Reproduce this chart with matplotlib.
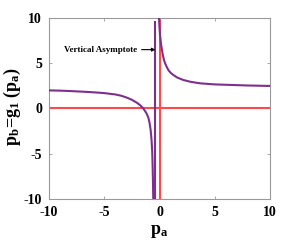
import matplotlib
matplotlib.use("Agg")
import matplotlib.pyplot as plt

# left branch of p_b = g_1(p_a)
left_pa = [-10, -9, -8, -7, -6, -5, -4, -3.5, -3, -2.5, -2, -1.75, -1.5, -1.3,
           -1.15, -1.0, -0.9, -0.8, -0.72, -0.66, -0.62, -0.59, -0.56]
left_pb = [2.0, 1.97, 1.92, 1.86, 1.79, 1.7, 1.55, 1.42, 1.22, 0.96, 0.6, 0.35,
           0.05, -0.3, -0.6, -1.05, -1.6, -2.4, -3.5, -4.8, -6.5, -8.3, -10.5]

# right branch
right_pa = [-0.06, -0.03, 0.0, 0.05, 0.1, 0.15, 0.23, 0.3, 0.41, 0.5, 0.65, 0.8,
            1.0, 1.25, 1.6, 2.15, 2.8, 3.67, 5, 6.5, 8, 10]
right_pb = [10.3, 9.6, 8.9, 8.1, 7.5, 7.0, 6.4, 5.9, 5.35, 5.0, 4.6, 4.25,
            3.95, 3.7, 3.42, 3.15, 2.95, 2.78, 2.66, 2.6, 2.54, 2.49]

asym_pa = -0.37
asym_pb = [-10, 9.5]

ticks = [-10, -5, 0, 5, 10]

purple = '#7e2f8e'
red = '#ff4a4a'
font = 'Liberation Serif'

plt.rcParams['mathtext.fontset'] = 'custom'
plt.rcParams['mathtext.rm'] = font
plt.rcParams['mathtext.bf'] = font + ':bold'
plt.rcParams['mathtext.it'] = font + ':italic'
plt.rcParams['axes.unicode_minus'] = False

fig = plt.figure(figsize=(2.99, 2.46), dpi=100)
ax = fig.add_axes([0.164, 0.191, 0.739, 0.736])

ax.axhline(0, color=red, lw=1.5, zorder=2)
ax.axvline(0, color=red, lw=1.5, zorder=2)
ax.plot(left_pa, left_pb, color=purple, lw=1.5, zorder=3)
ax.plot(right_pa, right_pb, color=purple, lw=1.5, zorder=3)
ax.plot([asym_pa, asym_pa], asym_pb, color=purple, lw=1.5, zorder=3)

ax.annotate('Vertical Asymptote', xy=(asym_pa, 6.5), xytext=(-2.0, 6.5),
            fontsize=6.5, fontweight='bold', family=font, ha='right', va='center',
            arrowprops=dict(arrowstyle='-|>', color='black', lw=0.8,
                            mutation_scale=5, shrinkA=1, shrinkB=0))

ax.set_xlim(-10, 10)
ax.set_ylim(-10, 10)
ax.set_xticks(ticks)
ax.set_yticks(ticks)
ax.tick_params(direction='in', length=2.5, width=0.6, color='#999999',
               top=True, right=True, labelsize=10, pad=5)
for lab in ax.get_xticklabels() + ax.get_yticklabels():
    lab.set_family(font)
    lab.set_fontweight('bold')
for sp in ax.spines.values():
    sp.set_color('#999999')
    sp.set_linewidth(0.8)

ax.set_xlabel(r'$\mathbf{p_a}$', fontsize=13, labelpad=2)
ax.set_ylabel(r'$\mathbf{p_b\!=\!g_1\;(p_a)}$', fontsize=13)
ax.yaxis.set_label_coords(-0.12, 0.51)

fig.savefig('out.png', dpi=100)
